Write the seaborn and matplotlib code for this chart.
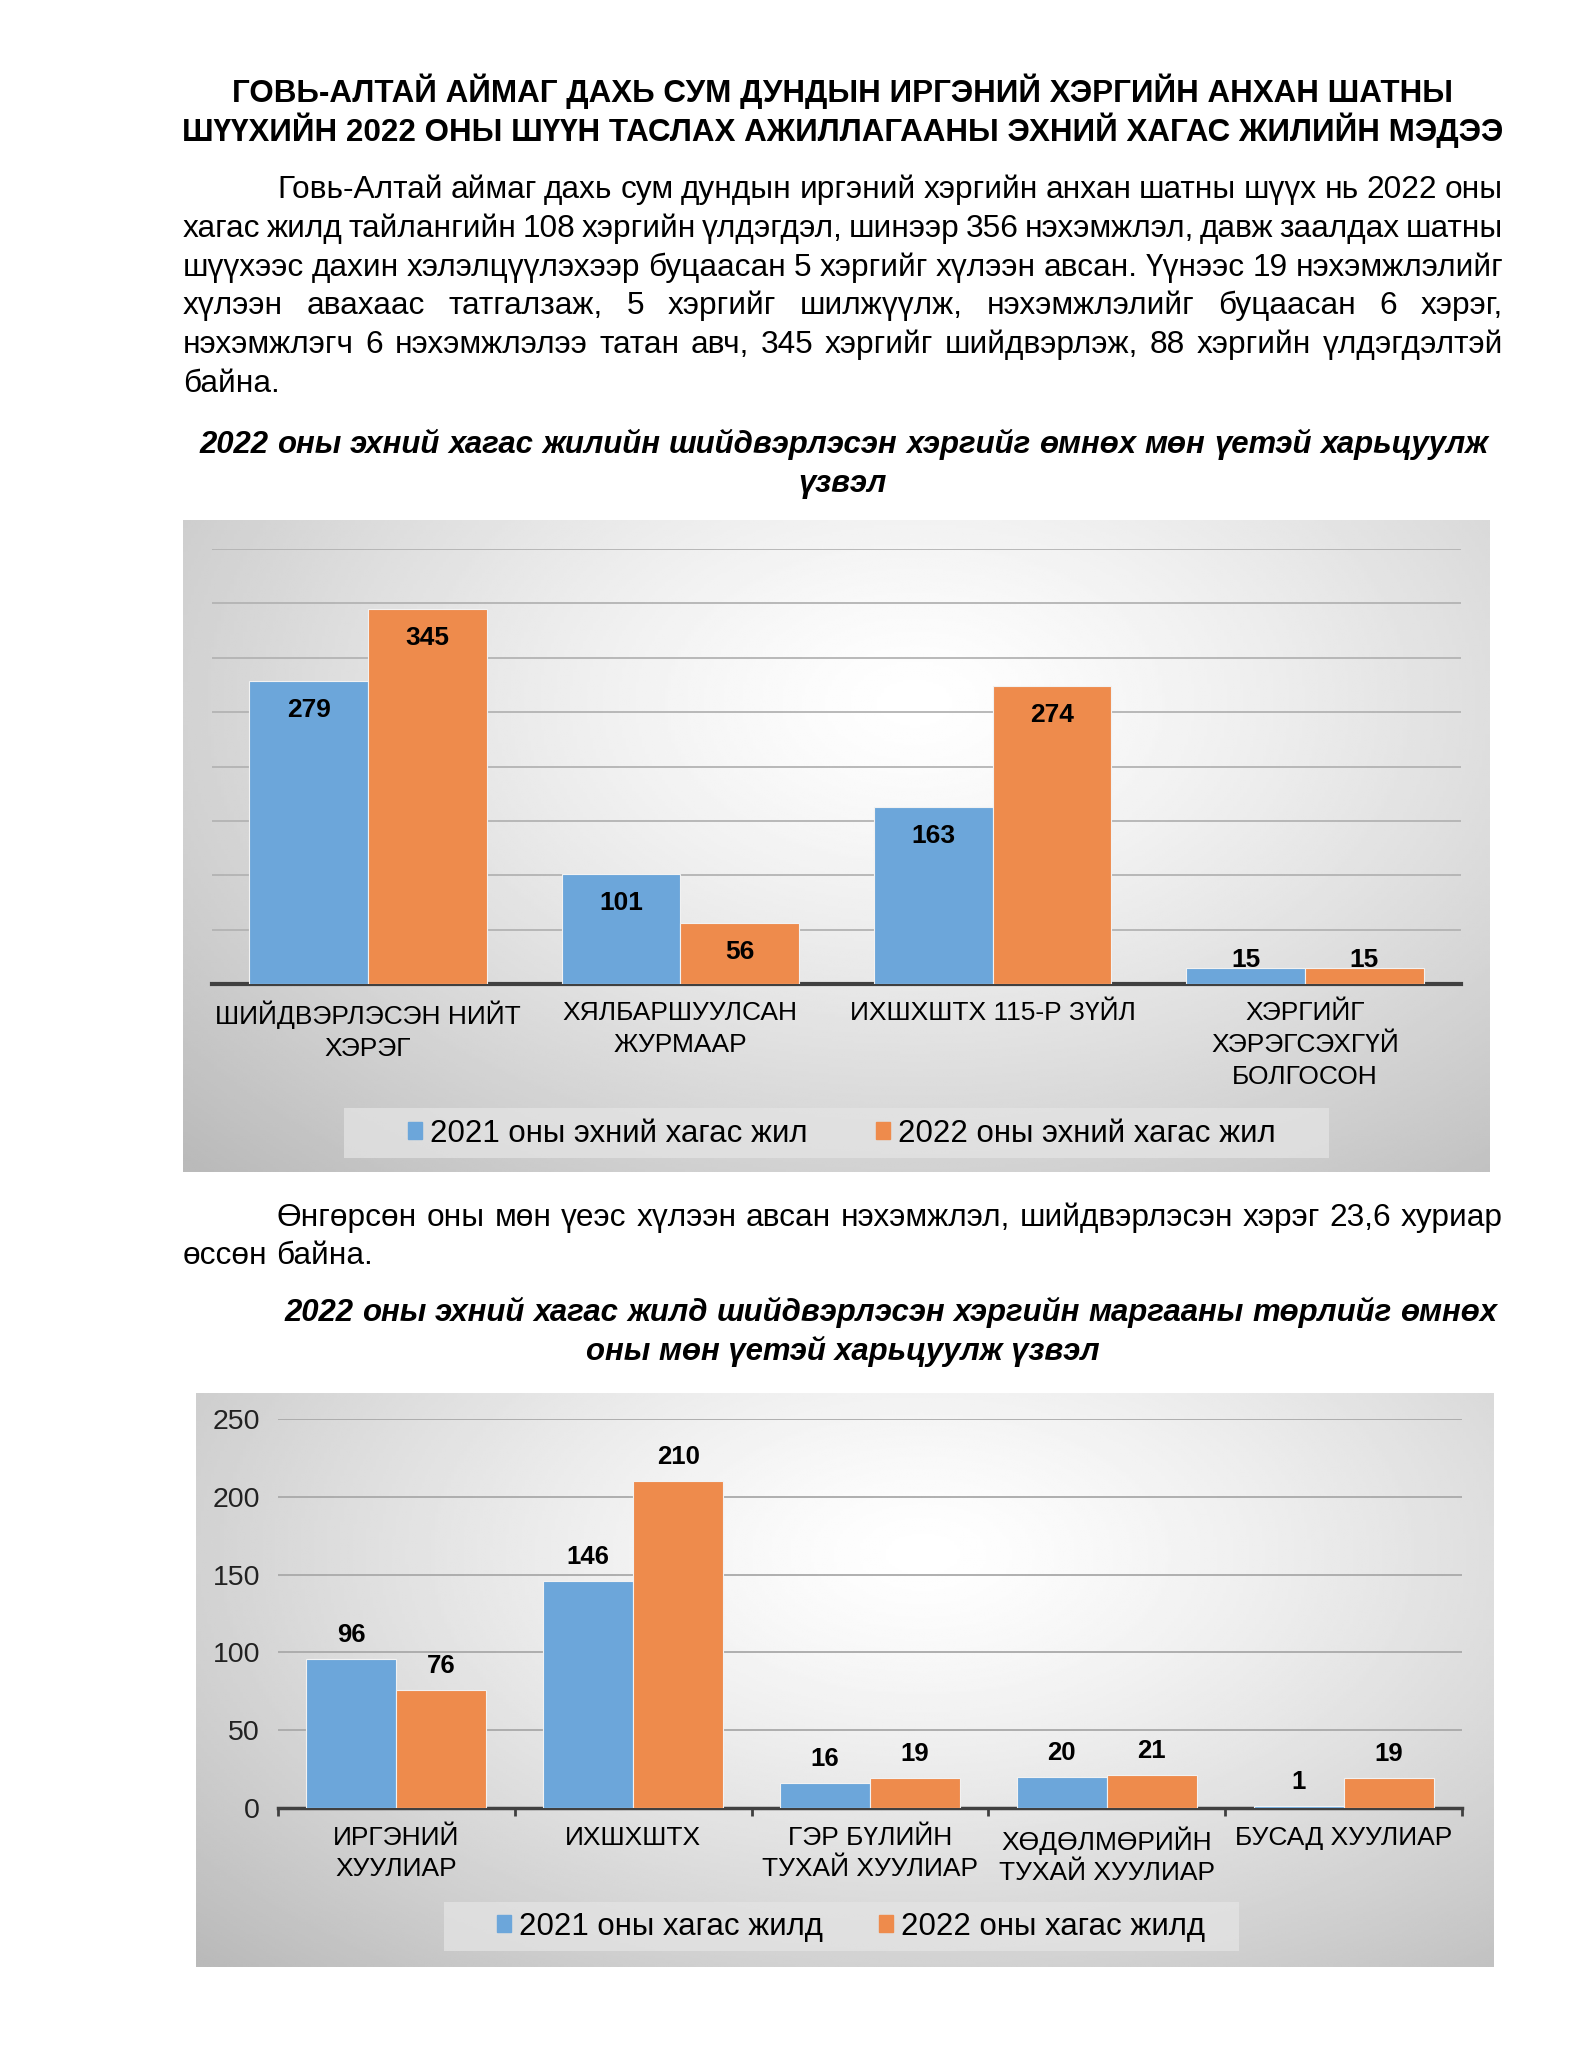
import matplotlib
matplotlib.use('Agg')
import matplotlib.pyplot as plt
import matplotlib.patches as mpatches
import numpy as np
import pandas as pd
import seaborn as sns

plt.rcParams['font.family'] = ['Liberation Sans', 'DejaVu Sans']

# ---- data ----
title_lines = ['ГОВЬ-АЛТАЙ АЙМАГ ДАХЬ СУМ ДУНДЫН ИРГЭНИЙ ХЭРГИЙН АНХАН ШАТНЫ',
               'ШҮҮХИЙН 2022 ОНЫ ШҮҮН ТАСЛАХ АЖИЛЛАГААНЫ ЭХНИЙ ХАГАС ЖИЛИЙН МЭДЭЭ']
para1 = ['Говь-Алтай аймаг дахь сум дундын иргэний хэргийн анхан шатны шүүх нь 2022 оны',
         'хагас жилд тайлангийн 108 хэргийн үлдэгдэл, шинээр 356 нэхэмжлэл, давж заалдах шатны',
         'шүүхээс дахин хэлэлцүүлэхээр буцаасан 5 хэргийг хүлээн авсан. Үүнээс 19 нэхэмжлэлийг',
         'хүлээн авахаас татгалзаж, 5 хэргийг шилжүүлж, нэхэмжлэлийг буцаасан 6 хэрэг,',
         'нэхэмжлэгч 6 нэхэмжлэлээ татан авч, 345 хэргийг шийдвэрлэж, 88 хэргийн үлдэгдэлтэй',
         'байна.']
para2 = ['Өнгөрсөн оны мөн үеэс хүлээн авсан нэхэмжлэл, шийдвэрлэсэн хэрэг 23,6 хуриар',
         'өссөн байна.']
chart1_title = ['2022 оны эхний хагас жилийн шийдвэрлэсэн хэргийг өмнөх мөн үетэй харьцуулж',
                'үзвэл']
chart2_title = ['2022 оны эхний хагас жилд шийдвэрлэсэн хэргийн маргааны төрлийг өмнөх',
                'оны мөн үетэй харьцуулж үзвэл']

cats1 = ['ШИЙДВЭРЛЭСЭН НИЙТ\nХЭРЭГ', 'ХЯЛБАРШУУЛСАН\nЖУРМААР',
         'ИХШХШТХ 115-Р ЗҮЙЛ', 'ХЭРГИЙГ\nХЭРЭГСЭХГҮЙ\nБОЛГОСОН']
series1 = ['2021 оны эхний хагас жил', '2022 оны эхний хагас жил']
vals1_2021 = [279, 101, 163, 15]
vals1_2022 = [345, 56, 274, 15]

cats2 = ['ИРГЭНИЙ\nХУУЛИАР', 'ИХШХШТХ', 'ГЭР БҮЛИЙН\nТУХАЙ ХУУЛИАР',
         'ХӨДӨЛМӨРИЙН\nТУХАЙ ХУУЛИАР', 'БУСАД ХУУЛИАР']
series2 = ['2021 оны хагас жилд', '2022 оны хагас жилд']
vals2_2021 = [96, 146, 16, 20, 1]
vals2_2022 = [76, 210, 19, 21, 19]
yticks2 = [0, 50, 100, 150, 200, 250]

BLUE = '#6CA6DA'
ORANGE = '#EE8B4C'

W, H = 1583, 2048
fig = plt.figure(figsize=(W / 100, H / 100), dpi=100)
fig.patch.set_facecolor('white')
renderer = fig.canvas.get_renderer()


def fx(px):
    return px / W


def fy(py):
    return 1 - py / H


def axes_px(x0, y0, x1, y1, **kw):
    return fig.add_axes([x0 / W, 1 - y1 / H, (x1 - x0) / W, (y1 - y0) / H], **kw)


def justify(lines, x0, x1, base, step, indent=0, size=22, **kw):
    for i, line in enumerate(lines):
        words = line.split()
        start = x0 + (indent if i == 0 else 0)
        texts = [fig.text(0, 0, w, fontsize=size, va='baseline', **kw) for w in words]
        widths = [t.get_window_extent(renderer).width for t in texts]
        if i == len(lines) - 1 or len(words) < 2:
            sp = fig.text(0, 0, 'a a', fontsize=size, **kw)
            sp2 = fig.text(0, 0, 'aa', fontsize=size, **kw)
            gap = sp.get_window_extent(renderer).width - sp2.get_window_extent(renderer).width
            sp.remove()
            sp2.remove()
        else:
            gap = (x1 - start - sum(widths)) / (len(words) - 1)
        x = start
        y = base + step * i
        for t, w in zip(texts, widths):
            t.set_position((fx(x), fy(y)))
            x += w + gap


def gradient_box(x0, y0, x1, y1):
    bg = axes_px(x0, y0, x1, y1, zorder=0)
    yy, xx = np.mgrid[0:1:300j, 0:1:400j]
    r = np.sqrt(((xx - 0.56) / 0.78) ** 2 + ((yy - 0.28) / 1.0) ** 2)
    shade = 1 - 0.27 * np.clip(r, 0, 1) ** 1.3
    bg.imshow(shade, cmap='gray', vmin=0, vmax=1, aspect='auto',
              extent=[0, 1, 0, 1], origin='upper')
    bg.set_axis_off()
    return bg


def long_frame(cats, names, a, b):
    return pd.DataFrame({
        'category': cats + cats,
        'period': [names[0]] * len(cats) + [names[1]] * len(cats),
        'count': a + b,
    })


# ---- page text ----
for i, line in enumerate(title_lines):
    fig.text(fx(843), fy(102 + 39 * i), line, fontsize=22.6, fontweight='bold',
             ha='center', va='baseline')

justify(para1, 183, 1503, 198, 38.8, indent=94, size=22.8)
justify(chart1_title[:1], 199, 1484, 453, 0, size=22.4, fontweight='bold', style='italic')
fig.text(fx(843), fy(492), chart1_title[1], fontsize=22.4, fontweight='bold',
         style='italic', ha='center', va='baseline')
justify(para2, 183, 1503, 1226, 38.3, indent=94, size=22.8)
justify(chart2_title[:1], 284, 1491, 1321, 0, size=22.4, fontweight='bold', style='italic')
fig.text(fx(843), fy(1360), chart2_title[1], fontsize=22.4, fontweight='bold',
         style='italic', ha='center', va='baseline')

# ---- chart 1 ----
gradient_box(183, 520, 1490, 1172)
ax1 = axes_px(212, 549, 1461, 984, zorder=2)
ax1.set_facecolor('none')
df1 = long_frame(cats1, series1, vals1_2021, vals1_2022)
sns.barplot(data=df1, x='category', y='count', hue='period', palette=[BLUE, ORANGE],
            width=0.76, saturation=1, edgecolor='#f2f2f2', linewidth=0.8,
            legend=False, ax=ax1, zorder=3)
ax1.set_ylim(0, 400)
ax1.set_xlim(-0.5, len(cats1) - 0.5)
ax1.set_yticks(range(0, 401, 50))
ax1.set_yticklabels([])
ax1.grid(axis='y', color='#b3b3b3', linewidth=1.3, zorder=0)
ax1.set_axisbelow(True)
ax1.tick_params(axis='both', length=0)
ax1.tick_params(axis='x', labelsize=19, pad=12)
for lab in ax1.get_xticklabels():
    lab.set_linespacing(1.42)
ax1.set_xlabel('')
ax1.set_ylabel('')
for s in ['top', 'right', 'left']:
    ax1.spines[s].set_visible(False)
ax1.spines['bottom'].set_color('#404040')
ax1.spines['bottom'].set_linewidth(3)
for cont in ax1.containers:
    for p in cont:
        h = p.get_height()
        off = -29 if h > 40 else 8
        ax1.annotate(f'{h:.0f}', (p.get_x() + p.get_width() / 2, h),
                     xytext=(0, off), textcoords='offset pixels',
                     ha='center', va='center', fontsize=19, fontweight='bold', zorder=5)

fig.patches.append(mpatches.Rectangle((fx(344), fy(1158)), fx(1329) - fx(344),
                                      fy(1108) - fy(1158), transform=fig.transFigure,
                                      facecolor='#e4e4e4', alpha=0.75, edgecolor='none',
                                      zorder=1))
h1 = [mpatches.Patch(color=BLUE), mpatches.Patch(color=ORANGE)]
fig.legend(h1, series1, loc='center', bbox_to_anchor=(fx(842), fy(1134)), ncol=2,
           frameon=False, fontsize=22.5, handlelength=0.45, handleheight=0.45,
           handletextpad=0.25, columnspacing=2.2)

# ---- chart 2 ----
gradient_box(196, 1393, 1493, 1967)
ax2 = axes_px(278, 1419, 1462, 1808, zorder=2)
ax2.set_facecolor('none')
df2 = long_frame(cats2, series2, vals2_2021, vals2_2022)
sns.barplot(data=df2, x='category', y='count', hue='period', palette=[BLUE, ORANGE],
            width=0.76, saturation=1, edgecolor='#f2f2f2', linewidth=0.8,
            legend=False, ax=ax2, zorder=3)
ax2.set_ylim(0, 250)
ax2.set_xlim(-0.5, len(cats2) - 0.5)
ax2.set_yticks(yticks2)
ax2.set_yticklabels([str(t) for t in yticks2])
ax2.grid(axis='y', color='#a9a9a9', linewidth=1.3, zorder=0)
ax2.set_axisbelow(True)
ax2.tick_params(axis='y', length=0, labelsize=20.5, pad=13, labelcolor='#222222')
ax2.tick_params(axis='x', length=0, labelsize=19, pad=13)
ax2.set_xticks(np.arange(-0.5, len(cats2), 1.0), minor=True)
ax2.tick_params(axis='x', which='minor', length=6, width=2, color='#404040', direction='out')
for lab in ax2.get_xticklabels():
    lab.set_linespacing(1.35)
ax2.set_xlabel('')
ax2.set_ylabel('')
for s in ['top', 'right', 'left']:
    ax2.spines[s].set_visible(False)
ax2.spines['bottom'].set_color('#404040')
ax2.spines['bottom'].set_linewidth(2.5)
for cont in ax2.containers:
    for p in cont:
        h = p.get_height()
        ax2.annotate(f'{h:.0f}', (p.get_x() + p.get_width() / 2, h),
                     xytext=(0, 24), textcoords='offset pixels',
                     ha='center', va='center', fontsize=18.5, fontweight='bold', zorder=5)

fig.patches.append(mpatches.Rectangle((fx(444), fy(1951)), fx(1239) - fx(444),
                                      fy(1902) - fy(1951), transform=fig.transFigure,
                                      facecolor='#e4e4e4', alpha=0.75, edgecolor='none',
                                      zorder=1))
h2 = [mpatches.Patch(color=BLUE), mpatches.Patch(color=ORANGE)]
fig.legend(h2, series2, loc='center', bbox_to_anchor=(fx(851), fy(1927)), ncol=2,
           frameon=False, fontsize=22.5, handlelength=0.45, handleheight=0.45,
           handletextpad=0.25, columnspacing=1.8)

fig.savefig('out.png', dpi=100)
